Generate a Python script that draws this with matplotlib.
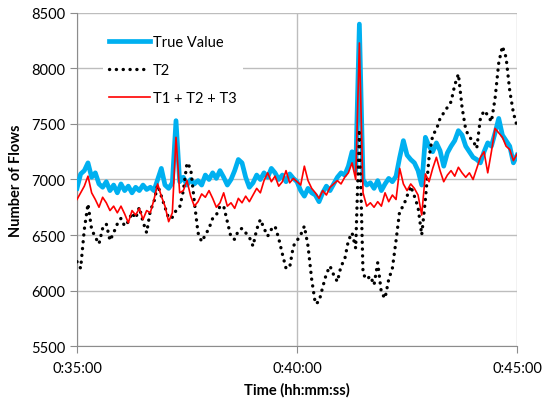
import numpy as np
import matplotlib
matplotlib.use("Agg")
from matplotlib import pyplot as plt
from matplotlib.ticker import FuncFormatter, MultipleLocator

# sample times in seconds (0:35:00 .. 0:45:00, every 5 s)
seconds = np.arange(35 * 60, 45 * 60 + 1, 5)

true_value = [
    6920, 7050, 7080, 7150, 7020, 7060, 6960, 6930, 6980, 6900,
    6950, 6880, 6960, 6900, 6940, 6880, 6930, 6900, 6950, 6910,
    6930, 6900, 7000, 7100, 6950, 6920, 6970, 7530, 6980, 7020,
    6950, 7000, 6960, 6990, 6950, 7040, 7000, 7060, 7010, 7080,
    7020, 6950, 7000, 7080, 7180, 7150, 7020, 6930, 6970, 7040,
    7000, 7060, 7020, 7100, 7060, 7000, 7040, 6980, 7050, 7010,
    6980, 6900, 6850, 6920, 6880, 6860, 6800, 6880, 6940, 6900,
    6960, 7020, 7060, 7040, 7120, 7250, 7080, 8400, 7000, 6950,
    6970, 6920, 6990, 6900, 6960, 7010, 6980, 7030, 7200, 7350,
    7220, 7180, 7150, 7080, 6950, 7380, 7300, 7250, 7330, 7260,
    7120, 7240, 7300, 7350, 7440, 7400, 7300, 7250, 7200, 7180,
    7150, 7250, 7330, 7300, 7420, 7550, 7400, 7350, 7300, 7150,
    7220,
]

t2 = [
    6260, 6200, 6550, 6780, 6550, 6480, 6420, 6560, 6600, 6450,
    6520, 6600, 6650, 6580, 6620, 6700, 6650, 6750, 6620, 6520,
    6720, 6800, 6950, 6850, 6750, 6650, 6660, 6720, 6750, 6900,
    7150, 7100, 6800, 6520, 6440, 6500, 6560, 6650, 6680, 6760,
    6760, 6620, 6480, 6460, 6540, 6560, 6520, 6480, 6400, 6550,
    6640, 6560, 6490, 6550, 6580, 6470, 6330, 6200, 6210, 6400,
    6450, 6500, 6580, 6400, 6100, 5880, 5900, 6030, 6150, 6220,
    6140, 6080, 6220, 6280, 6450, 6520, 6380, 7450, 6150, 6100,
    6130, 6050, 6250, 5980, 5930, 6100, 6200, 6450, 6720, 6760,
    6850, 6940, 6850, 6750, 6500, 6820, 7200, 7400, 7450, 7550,
    7600, 7650, 7700, 7850, 7950, 7650, 7450, 7380, 7350, 7280,
    7550, 7620, 7580, 7520, 7730, 8050, 8200, 8100, 7800, 7600,
    7480,
]

t1_t2_t3 = [
    6820, 6880, 6940, 7030, 6880, 6820, 6750, 6840, 6790, 6720,
    6760, 6700, 6760, 6690, 6610, 6720, 6680, 6740, 6640, 6720,
    6700, 6820, 6960, 6850, 6760, 6620, 6700, 7380, 6880, 6900,
    6990, 6850, 6760, 6800, 6870, 6840, 6900, 6830, 6750, 6790,
    6880, 6760, 6790, 6740, 6830, 6790, 6850, 6800, 6860, 6920,
    6880, 6990, 7060, 6980, 7030, 6940, 6980, 7080, 6970, 7010,
    6980, 6950, 7120, 6990, 6920, 6880, 6830, 6900, 6860, 6930,
    6960, 6990, 6960, 7020, 7060, 7150, 7000, 8230, 6880, 6760,
    6790, 6750, 6800, 6760, 6880, 6800, 6860, 6820, 7100, 6960,
    6900, 6960, 6920, 6860, 6680, 7050, 6980, 7100, 7200, 7080,
    6980, 7040, 7080, 7030, 7110, 7060, 7020, 7060, 7000, 7100,
    7200, 7250, 7060, 7250, 7460, 7420, 7380, 7300, 7270, 7170,
    7230,
]

y_ticks = [5500, 6000, 6500, 7000, 7500, 8000, 8500]


def hms(sec, pos=None):
    sec = int(round(sec))
    return '%d:%02d:%02d' % (sec // 3600, (sec % 3600) // 60, sec % 60)


plt.rcParams['font.family'] = ['Lato', 'DejaVu Sans']

fig = plt.figure(figsize=(5.44, 4.02), dpi=100)
ax = fig.add_axes([0.1415, 0.1368, 0.809, 0.8284])

ax.plot(seconds, true_value, color='#00b0f0', lw=3.4, label='True Value',
        solid_joinstyle='round', zorder=3)
ax.plot(seconds, t2, color='black', lw=2.4, linestyle=(0, (0.05, 2.0)),
        dash_capstyle='round', label='T2', zorder=4)
ax.plot(seconds, t1_t2_t3, color='#ff0000', lw=1.2, label='T1 + T2 + T3',
        zorder=5)

ax.set_xlim(35 * 60, 45 * 60)
ax.set_ylim(5500, 8500)
ax.xaxis.set_major_locator(MultipleLocator(300))
ax.xaxis.set_major_formatter(FuncFormatter(hms))
ax.set_yticks(y_ticks)

ax.grid(True, color='#bdbdbd', lw=1.0)
ax.set_axisbelow(True)
for side in ['top', 'right']:
    ax.spines[side].set_visible(False)
for side in ['left', 'bottom']:
    ax.spines[side].set_color('#8c8c8c')
ax.tick_params(axis='both', length=5, color='#8c8c8c', labelsize=10.5,
               labelcolor='black')
ax.tick_params(axis='x', pad=6)

ax.set_xlabel('Time (hh:mm:ss)', fontsize=10.5, fontweight='bold', labelpad=5)
ax.set_ylabel('Number of Flows', fontsize=10.5, fontweight='bold', labelpad=6)

leg = ax.legend(loc='upper left', bbox_to_anchor=(0.06, 0.95), frameon=True,
                fontsize=10.5, handlelength=2.8, handletextpad=0.2,
                labelspacing=0.95, borderaxespad=0)
leg.get_frame().set_facecolor('white')
leg.get_frame().set_edgecolor('none')
leg.get_frame().set_alpha(1.0)

fig.savefig('out.png', dpi=100)
